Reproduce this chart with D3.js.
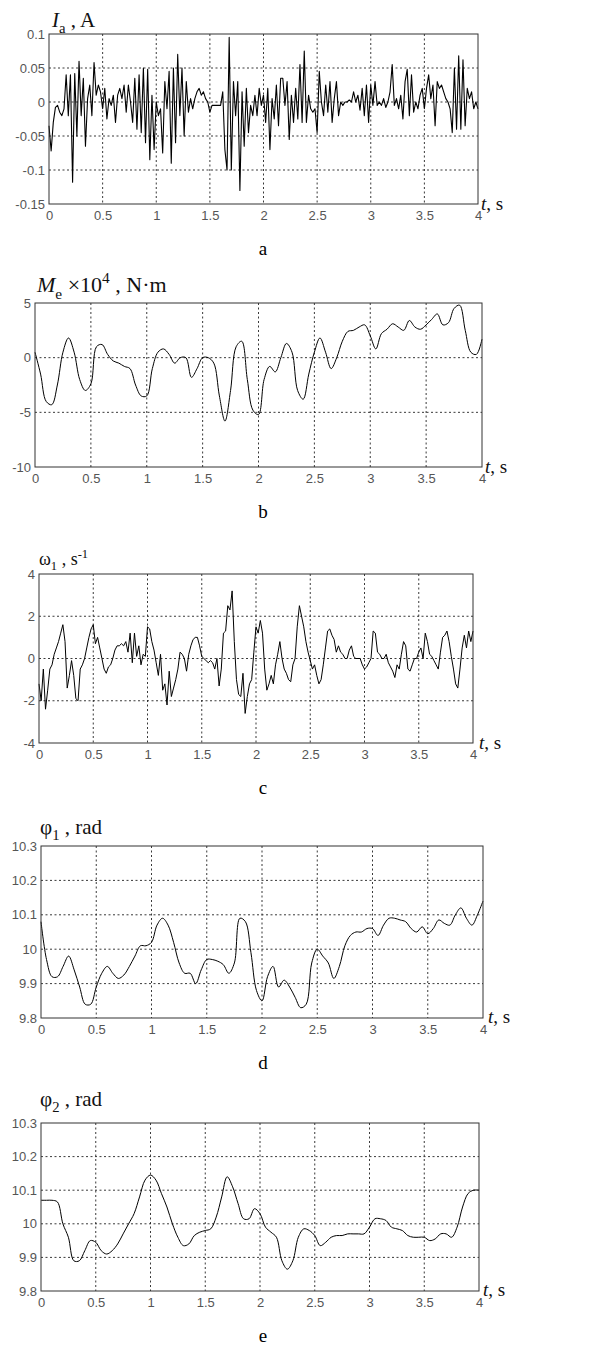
<!DOCTYPE html>
<html>
<head>
<meta charset="utf-8">
<script src="https://cdn.jsdelivr.net/npm/d3@7"></script>
<style>
  body { margin: 0; background: #fff; }
  svg { display: block; }
</style>
</head>
<body>
<svg id="fig" width="595" height="1348"></svg>
<script>
// time steps of the sampled curves (s)
var dtFast = 0.02;
var dtSlow = 0.05;

var xTicks = [0, 0.5, 1, 1.5, 2, 2.5, 3, 3.5, 4];

// a) armature current I_a, A  (every 0.02 s)
var currentA = [
  -0.035,-0.072,-0.03,-0.008,-0.005,-0.015,-0.02,-0.01,0.04,-0.02,
  0.04,-0.118,0.042,-0.05,0.06,-0.02,0.035,-0.065,0.005,0.025,
  -0.02,0.058,0.01,0.025,0.015,-0.01,0.02,-0.025,0.005,-0.005,
  0.01,-0.03,0.01,0.02,0.005,0.025,-0.015,0.025,0.0,-0.03,
  0.035,-0.04,0.04,-0.045,0.05,-0.06,0.048,-0.085,0.01,-0.07,
  0.0,-0.02,-0.01,-0.075,0.03,-0.01,0.045,-0.09,0.05,-0.06,
  0.07,-0.02,0.05,-0.05,0.03,-0.015,0.005,-0.01,0.005,0.015,
  0.02,0.01,0.015,0.005,0.0,-0.015,-0.005,-0.005,-0.005,-0.005,
  -0.005,0.015,-0.07,-0.1,0.095,-0.1,0.03,-0.02,0.03,-0.13,
  0.015,-0.065,0.02,-0.045,-0.005,-0.02,0.01,-0.02,0.02,-0.005,
  0.01,-0.03,0.02,-0.07,0.005,-0.025,0.025,-0.035,0.035,0.035,
  -0.005,0.03,-0.055,0.01,-0.03,0.02,-0.025,0.055,-0.03,0.075,
  -0.03,0.01,-0.01,-0.015,-0.01,-0.045,0.045,0.0,-0.02,0.025,
  -0.015,0.03,-0.03,0.005,0.03,-0.02,0.0,-0.005,0.0,0.0,
  0.003,0.0,0.015,0.0,0.01,-0.012,0.02,-0.02,0.025,-0.03,
  0.025,-0.005,0.03,-0.005,0.0,-0.005,0.005,-0.008,0.0,0.015,
  0.055,-0.005,0.005,-0.01,0.01,-0.025,0.03,0.048,-0.02,0.04,
  -0.015,0.0,-0.01,0.01,0.02,-0.01,0.02,0.04,0.005,0.025,
  -0.035,0.03,0.02,0.025,0.015,0.005,0.0,-0.01,-0.045,0.05,
  -0.04,0.068,-0.04,0.062,-0.035,0.02,0.005,0.015,-0.01,0.0,
  -0.01
];

// b) electromagnetic torque M_e x 10^4, N·m  (every 0.05 s)
var torqueB = [
  0.5,-1.5,-4.0,-4.3,-2.5,0.5,1.8,0.5,-2.0,-3.0,
  -2.4,1.0,1.2,0.3,-0.3,-0.5,-0.8,-1.0,-2.5,-3.5,
  -3.5,-1.0,0.5,0.8,0.3,-0.5,0.0,0.0,-1.8,-1.0,
  0.0,0.0,-0.5,-3.5,-5.8,-3.0,1.0,1.5,-2.0,-4.8,
  -5.2,-2.0,-0.8,-1.3,0.0,1.3,0.5,-3.0,-3.8,-1.5,
  0.5,1.8,0.5,-1.0,0.0,1.5,2.4,2.5,2.8,3.0,
  2.0,0.8,2.2,2.6,3.1,2.8,2.5,3.4,2.8,2.6,
  3.0,3.5,4.0,3.0,3.2,4.5,4.8,2.5,0.5,0.3,
  1.7
];

// c) angular speed omega_1, 1/s  (every 0.02 s)
var speedC = [
  -1.2,-2.0,-0.5,-2.4,-1.5,-0.5,-0.3,0.2,0.5,0.8,
  1.2,1.6,0.8,-1.4,-0.8,-0.1,-0.8,-1.9,-2.0,-0.5,
  -0.3,0.0,0.5,1.0,1.4,1.6,0.7,1.0,0.5,0.0,
  -0.5,-0.7,-0.4,-0.3,0.0,0.4,0.6,0.6,0.7,0.6,
  0.8,0.3,1.2,-0.2,1.2,0.1,0.6,-0.3,0.2,0.1,
  1.5,1.4,0.8,0.4,-0.2,-0.8,0.2,-1.5,-1.2,-2.2,
  -0.6,-1.8,-1.4,-1.0,-0.5,0.3,0.2,0.0,-0.6,0.2,
  0.6,0.9,1.0,1.0,0.6,0.1,0.0,-0.1,-0.2,-0.1,
  -0.2,-0.5,0.0,-1.3,-0.5,1.2,1.3,2.5,2.3,3.2,
  0.8,-1.0,-1.7,-1.8,-0.7,-2.6,-1.8,-1.2,-1.0,0.3,
  1.5,1.2,1.8,1.2,-0.5,-1.5,-1.2,-0.8,-1.2,-0.3,
  0.2,0.8,0.0,-0.5,-0.7,-1.0,-1.1,-0.3,0.0,1.5,
  2.5,2.0,1.5,0.8,0.3,-0.1,-0.5,-0.3,-0.8,-1.2,
  -1.0,-0.3,0.5,1.3,1.4,1.1,0.9,0.3,0.6,0.3,
  0.2,0.0,0.0,0.4,0.6,0.1,0.0,0.0,0.0,-0.3,
  -0.5,-0.4,-0.2,0.0,1.3,1.2,0.3,0.2,0.0,0.0,
  0.2,-0.2,-0.4,-0.6,-0.9,-0.3,-0.5,0.2,0.8,0.6,
  -0.5,-0.6,-0.3,0.0,0.0,0.3,0.5,0.0,1.2,0.8,
  0.2,0.1,-0.1,-0.3,-0.5,0.3,1.0,1.1,1.3,0.8,
  0.1,-0.5,-1.2,-1.4,-0.5,0.5,1.1,0.5,1.3,0.8,
  1.3
];

// d) angle phi_1, rad  (every 0.05 s)
var angleD = [
  10.08,9.97,9.92,9.92,9.95,9.98,9.94,9.89,9.84,9.84,
  9.89,9.93,9.95,9.93,9.915,9.925,9.95,9.98,10.01,10.01,
  10.02,10.07,10.09,10.07,10.02,9.96,9.93,9.93,9.90,9.94,
  9.97,9.97,9.965,9.955,9.93,9.96,10.09,10.08,9.99,9.88,
  9.85,9.92,9.95,9.89,9.91,9.89,9.86,9.83,9.84,9.96,
  10.00,9.98,9.96,9.915,9.95,10.01,10.04,10.05,10.05,10.06,
  10.06,10.04,10.07,10.09,10.09,10.085,10.08,10.06,10.05,10.065,
  10.045,10.06,10.085,10.075,10.07,10.10,10.12,10.09,10.07,10.10,
  10.14
];

// e) angle phi_2, rad  (every 0.05 s)
var angleE = [
  10.07,10.07,10.07,10.065,10.00,9.96,9.89,9.89,9.92,9.95,
  9.945,9.92,9.91,9.92,9.94,9.97,10.00,10.03,10.08,10.13,
  10.145,10.13,10.09,10.05,10.00,9.96,9.935,9.94,9.965,9.975,
  9.98,9.985,10.02,10.08,10.14,10.11,10.06,10.015,10.015,10.045,
  10.03,9.99,9.975,9.96,9.89,9.865,9.89,9.96,9.985,9.98,
  9.965,9.935,9.945,9.96,9.965,9.965,9.97,9.97,9.97,9.97,
  9.99,10.015,10.015,10.01,9.99,9.985,9.98,9.965,9.96,9.96,
  9.96,9.95,9.955,9.97,9.97,9.96,9.99,10.05,10.09,10.10,
  10.10
];

var yTicksA = [-0.15, -0.1, -0.05, 0, 0.05, 0.1];
var yTicksB = [-10, -5, 0, 5];
var yTicksC = [-4, -2, 0, 2, 4];
var yTicksD = [9.8, 9.9, 10, 10.1, 10.2, 10.3];
var yTicksE = [9.8, 9.9, 10, 10.1, 10.2, 10.3];

var serif = "'Liberation Serif', 'Times New Roman', serif";
var sans = "'Liberation Sans', Arial, sans-serif";

var svg = d3.select("#fig");
svg.append("rect").attr("width", 595).attr("height", 1348).attr("fill", "#fff");

// title pieces: [text, style] where style: i = italic, sub, sup
var panels = [
  { values: currentA, dt: dtFast, yTicks: yTicksA, letter: "a", smooth: false, lw: 1.1,
    box: [49, 34, 478, 204], titleX: 52, titleY: 27, titleSize: 21,
    title: [["I", "i"], ["a", "sub"], [" , A", ""]], tX: 481, tY: 210 },
  { values: torqueB, dt: dtSlow, yTicks: yTicksB, letter: "b", smooth: true, lw: 1,
    box: [35, 303, 482, 467], titleX: 37, titleY: 292, titleSize: 22,
    title: [["M", "i"], ["e", "sub"], [" \u00d710", ""], ["4", "sup"], [" , N\u00b7m", ""]], tX: 485, tY: 473 },
  { values: speedC, dt: dtFast, yTicks: yTicksC, letter: "c", smooth: false, lw: 1,
    box: [39, 574, 473, 743], titleX: 39, titleY: 565, titleSize: 18,
    title: [["\u03c9", ""], ["1", "sub"], [" ,  s", ""], ["-1", "sup"]], tX: 479, tY: 749 },
  { values: angleD, dt: dtSlow, yTicks: yTicksD, letter: "d", smooth: true, lw: 1,
    box: [41, 846, 483, 1018], titleX: 40, titleY: 834, titleSize: 21,
    title: [["\u03c6", ""], ["1", "sub"], [" , rad", ""]], tX: 488, tY: 1023 },
  { values: angleE, dt: dtSlow, yTicks: yTicksE, letter: "e", smooth: true, lw: 1,
    box: [41, 1123, 479, 1291], titleX: 40, titleY: 1106, titleSize: 21,
    title: [["\u03c6", ""], ["2", "sub"], [" , rad", ""]], tX: 483, tY: 1296 }
];

panels.forEach(function (p) {
  var x0 = p.box[0], y0 = p.box[1], x1 = p.box[2], y1 = p.box[3];
  var yMin = d3.min(p.yTicks), yMax = d3.max(p.yTicks);

  var x = d3.scaleLinear().domain([0, 4]).range([x0, x1]);
  var y = d3.scaleLinear().domain([yMin, yMax]).range([y1, y0]);

  var g = svg.append("g");

  // dotted grid
  g.selectAll(".vgrid").data(xTicks.slice(1, -1)).enter().append("line")
    .attr("x1", d => x(d)).attr("x2", d => x(d))
    .attr("y1", y0).attr("y2", y1)
    .attr("stroke", "#222").attr("stroke-width", 0.9)
    .attr("stroke-dasharray", "2,2.5");
  g.selectAll(".hgrid").data(p.yTicks.slice(1, -1)).enter().append("line")
    .attr("x1", x0).attr("x2", x1)
    .attr("y1", d => y(d)).attr("y2", d => y(d))
    .attr("stroke", "#222").attr("stroke-width", 0.9)
    .attr("stroke-dasharray", "2,2.5");

  // curve
  var line = d3.line()
    .x(function (d, i) { return x(i * p.dt); })
    .y(function (d) { return y(d); })
    .curve(p.smooth ? d3.curveCatmullRom.alpha(0.5) : d3.curveLinear);
  g.append("path").datum(p.values)
    .attr("d", line)
    .attr("fill", "none")
    .attr("stroke", "#000")
    .attr("stroke-width", p.lw)
    .attr("stroke-linejoin", "round");

  // frame
  g.append("rect")
    .attr("x", x0).attr("y", y0)
    .attr("width", x1 - x0).attr("height", y1 - y0)
    .attr("fill", "none").attr("stroke", "#333").attr("stroke-width", 1);

  // axes (labels only)
  var ax = g.append("g").attr("transform", "translate(0," + y1 + ")")
    .call(d3.axisBottom(x).tickValues(xTicks).tickFormat(d => String(d)).tickSize(0).tickPadding(7));
  var ay = g.append("g").attr("transform", "translate(" + x0 + ",0)")
    .call(d3.axisLeft(y).tickValues(p.yTicks).tickFormat(d => String(d)).tickSize(0).tickPadding(4));
  [ax, ay].forEach(function (a) {
    a.select(".domain").remove();
    a.selectAll("text")
      .attr("font-family", sans)
      .attr("font-size", 13)
      .attr("fill", "#555");
  });

  // title
  var t = svg.append("text")
    .attr("x", p.titleX).attr("y", p.titleY)
    .attr("font-family", serif)
    .attr("font-size", p.titleSize)
    .attr("fill", "#111");
  var shift = 0;
  p.title.forEach(function (piece) {
    var s = t.append("tspan").text(piece[0]);
    var dy = 0;
    if (piece[1] === "i") s.attr("font-style", "italic");
    if (piece[1] === "sub") { dy = 0.3 * p.titleSize; s.attr("font-size", p.titleSize * 0.7); }
    if (piece[1] === "sup") { dy = -0.4 * p.titleSize; s.attr("font-size", p.titleSize * 0.7); }
    s.attr("dy", dy - shift);
    shift = dy;
  });

  // t, s
  var ts = svg.append("text")
    .attr("x", p.tX).attr("y", p.tY)
    .attr("font-family", serif)
    .attr("font-size", 19)
    .attr("fill", "#111");
  ts.append("tspan").attr("font-style", "italic").text("t");
  ts.append("tspan").text(", s");

  // panel letter
  svg.append("text")
    .attr("x", 263).attr("y", y1 + 51)
    .attr("text-anchor", "middle")
    .attr("font-family", serif)
    .attr("font-size", 19)
    .attr("fill", "#000")
    .text(p.letter);
});
</script>
</body>
</html>
